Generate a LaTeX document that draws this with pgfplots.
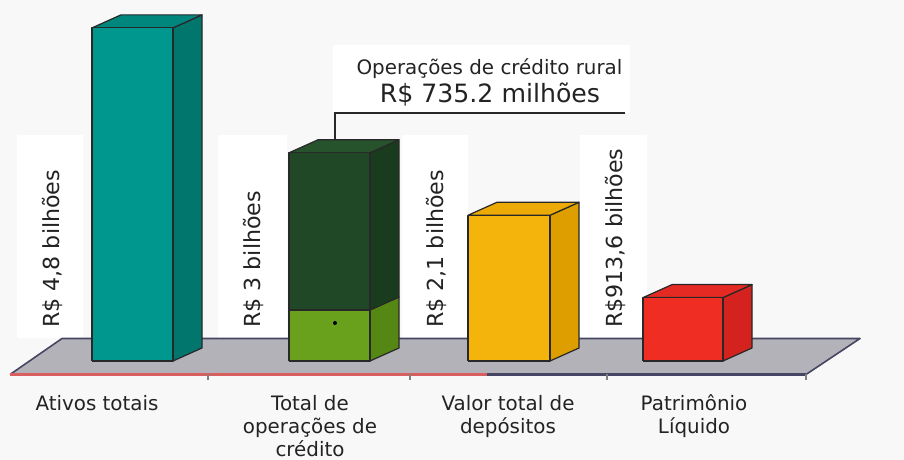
\documentclass[border=0pt]{standalone}
\usepackage{fontspec}
\setmainfont{DejaVu Sans}
\usepackage{pgfplots}
\pgfplotsset{compat=1.18}
\definecolor{bgc}{RGB}{248,248,248}
\definecolor{txt}{RGB}{35,35,35}
\definecolor{edge}{RGB}{40,40,40}
\definecolor{floorc}{RGB}{178,178,184}
\definecolor{floore}{RGB}{70,70,100}
\definecolor{floorr}{RGB}{215,95,95}
\definecolor{tealF}{RGB}{0,152,142}
\definecolor{tealS}{RGB}{0,118,108}
\definecolor{tealT}{RGB}{0,135,125}
\definecolor{dgF}{RGB}{32,72,38}
\definecolor{dgS}{RGB}{26,60,30}
\definecolor{dgT}{RGB}{38,82,44}
\definecolor{lgF}{RGB}{105,160,28}
\definecolor{lgS}{RGB}{85,135,20}
\definecolor{orF}{RGB}{245,180,12}
\definecolor{orS}{RGB}{222,158,0}
\definecolor{orT}{RGB}{235,170,6}
\definecolor{rdF}{RGB}{240,45,35}
\definecolor{rdS}{RGB}{212,35,30}
\definecolor{rdT}{RGB}{228,42,35}
\begin{document}
\begin{tikzpicture}
\begin{axis}[
  name=ax,
  scale only axis, width=678pt, height=345pt,
  xmin=0, xmax=904, ymin=-1.4265, ymax=5.2017,
  clip=false,
  axis background/.style={fill=bgc},
  axis line style={draw=none},
  major tick length=0pt,
  ytick=\empty,
  xtick={97,310,508,694},
  xticklabels={{\rule{0pt}{12.3pt}Ativos totais},
               {\rule{0pt}{12.3pt}Total de\\operações de\\crédito},
               {\rule{0pt}{12.3pt}Valor total de\\depósitos},
               {\rule{0pt}{12.3pt}Patrimônio\\Líquido}},
  xticklabel style={font=\fontsize{14.9}{17.3}\selectfont, align=center,
     anchor=north, inner sep=0pt, text=txt},
  xticklabel shift=-49.5pt,
  axis on top,
  every axis plot/.append style={line join=round, line width=0.9pt},
]
% white label boxes
\fill[white] (axis cs:17,0.3242) rectangle (axis cs:83,3.2565);
\fill[white] (axis cs:218,0.3242) rectangle (axis cs:287,3.2565);
\fill[white] (axis cs:402,0.3242) rectangle (axis cs:468,3.2565);
\fill[white] (axis cs:580,0.3242) rectangle (axis cs:647,3.2565);
\fill[white] (axis cs:333,3.5735) rectangle (axis cs:630,4.5533);

% floor
\addplot[fill=floorc, draw=none] coordinates {(10,-0.1945) (806,-0.1945) (860,0.3242) (62,0.3242) (10,-0.1945)};
\addplot[draw=floore, line width=1.2pt] coordinates {(10,-0.1945) (62,0.3242) (860,0.3242) (806,-0.1945)};
\addplot[draw=floorr, line width=1.6pt] coordinates {(10,-0.1945) (487,-0.1945)};
\addplot[draw=floore, line width=1.6pt] coordinates {(487,-0.1945) (806,-0.1945)};
\addplot[draw=gray, line width=1pt] coordinates {(208,-0.1945) (208,-0.2738)};
\addplot[draw=gray, line width=1pt] coordinates {(410,-0.1945) (410,-0.2738)};
\addplot[draw=gray, line width=1pt] coordinates {(607,-0.1945) (607,-0.2738)};
\addplot[draw=gray, line width=1pt] coordinates {(806,-0.1945) (806,-0.2738)};

% bar 1: Ativos totais 4.8
\addplot[fill=tealS, draw=edge] coordinates {(173,0) (202,0.1873) (202,4.9873) (173,4.8) (173,0)};
\addplot[fill=tealT, draw=edge] coordinates {(92,4.8) (121,4.9873) (202,4.9873) (173,4.8) (92,4.8)};
\addplot[fill=tealF, draw=edge] coordinates {(92,0) (173,0) (173,4.8) (92,4.8) (92,0)};

% bar 2: Total de operações de crédito 3.0 (rural 0.7352)
\addplot[fill=lgS, draw=edge] coordinates {(370,0) (399,0.1873) (399,0.9225) (370,0.7352) (370,0)};
\addplot[fill=dgS, draw=edge] coordinates {(370,0.7352) (399,0.9225) (399,3.1873) (370,3.0) (370,0.7352)};
\addplot[fill=dgT, draw=edge] coordinates {(289,3.0) (318,3.1873) (399,3.1873) (370,3.0) (289,3.0)};
\addplot[fill=lgF, draw=edge] coordinates {(289,0) (370,0) (370,0.7352) (289,0.7352) (289,0)};
\addplot[fill=dgF, draw=edge] coordinates {(289,0.7352) (370,0.7352) (370,3.0) (289,3.0) (289,0.7352)};

% bar 3: Valor total de depósitos 2.1
\addplot[fill=orS, draw=edge] coordinates {(550,0) (579,0.1873) (579,2.2873) (550,2.1) (550,0)};
\addplot[fill=orT, draw=edge] coordinates {(468,2.1) (497,2.2873) (579,2.2873) (550,2.1) (468,2.1)};
\addplot[fill=orF, draw=edge] coordinates {(468,0) (550,0) (550,2.1) (468,2.1) (468,0)};

% bar 4: Patrimônio Líquido 0.9136
\addplot[fill=rdS, draw=edge] coordinates {(723,0) (752,0.1873) (752,1.1009) (723,0.9136) (723,0)};
\addplot[fill=rdT, draw=edge] coordinates {(643,0.9136) (672,1.1009) (752,1.1009) (723,0.9136) (643,0.9136)};
\addplot[fill=rdF, draw=edge] coordinates {(643,0) (723,0) (723,0.9136) (643,0.9136) (643,0)};

% annotation bracket
\draw[edge, line width=2.2pt] (axis cs:334,3.5735) -- (axis cs:625,3.5735);
\draw[edge, line width=1.5pt] (axis cs:335,3.5735) -- (axis cs:335,3.1844);
\fill[black] (axis cs:335,0.5476) circle[radius=1.5pt];

% annotation text
\node[anchor=base, text=txt, inner sep=0pt, font=\fontsize{14.9}{17}\selectfont] at (axis cs:489.5,4.1210) {Operações de crédito rural};
\node[anchor=base, text=txt, inner sep=0pt, font=\fontsize{18.9}{22}\selectfont] at (axis cs:490,3.7176) {R\$ 735.2 milhões};

% rotated value labels
\node[rotate=90, anchor=base west, inner sep=0pt, text=txt, font=\fontsize{16.6}{19}\selectfont] at (axis cs:59.3,0.4755) {R\$ 4,8 bilhões};
\node[rotate=90, anchor=base west, inner sep=0pt, text=txt, font=\fontsize{16.6}{19}\selectfont] at (axis cs:260.7,0.4755) {R\$ 3 bilhões};
\node[rotate=90, anchor=base west, inner sep=0pt, text=txt, font=\fontsize{16.6}{19}\selectfont] at (axis cs:443.3,0.4755) {R\$ 2,1 bilhões};
\node[rotate=90, anchor=base west, inner sep=0pt, text=txt, font=\fontsize{16.6}{19}\selectfont] at (axis cs:622.7,0.4755) {R\$913,6 bilhões};
\end{axis}
\pgfresetboundingbox
\path (ax.south west) rectangle (ax.north east);
\end{tikzpicture}
\end{document}
